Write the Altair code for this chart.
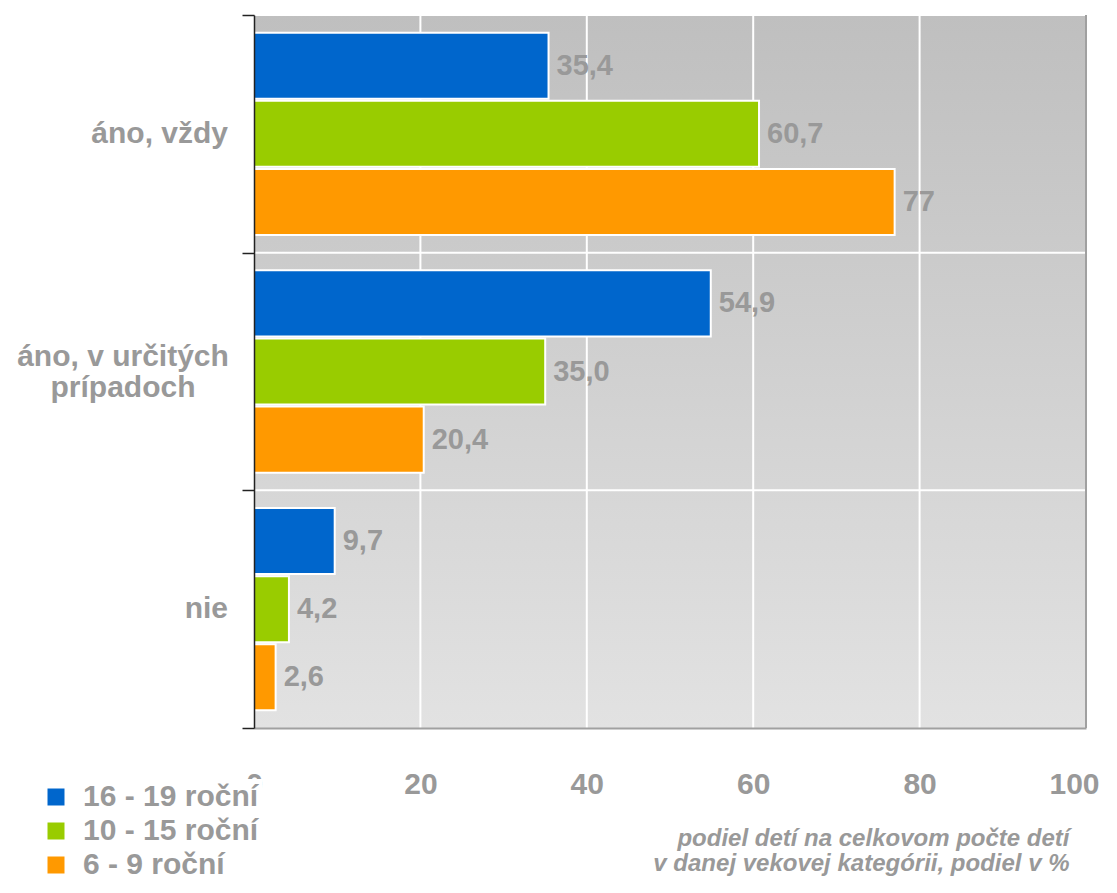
import altair as alt
import pandas as pd

categories = ["áno, vždy", "áno, v určitých prípadoch", "nie"]
single_line_cats = ["áno, vždy", "nie"]
two_line_cat = ["áno, v určitých prípadoch"]
two_line_text = ["áno, v určitých\nprípadoch"]
series = ["16 - 19 roční", "10 - 15 roční", "6 - 9 roční"]
values_16_19 = [35.4, 54.9, 9.7]
values_10_15 = [60.7, 35.0, 4.2]
values_6_9 = [77, 20.4, 2.6]
labels_16_19 = ["35,4", "54,9", "9,7"]
labels_10_15 = ["60,7", "35,0", "4,2"]
labels_6_9 = ["77", "20,4", "2,6"]
x_ticks = [0, 20, 40, 60, 80, 100]
colors = ["#0066CC", "#99CC00", "#FF9900"]
axis_title = ["podiel detí na celkovom počte detí", "v danej vekovej kategórii, podiel v %"]

rows = []
for s, vals, labs in zip(series, [values_16_19, values_10_15, values_6_9],
                         [labels_16_19, labels_10_15, labels_6_9]):
    for c, v, l in zip(categories, vals, labs):
        rows.append({"category": c, "series": s, "value": v, "label": l})
df = pd.DataFrame(rows)

GRAY = "#999999"
FONT = "Liberation Sans"

y_scale = alt.Scale(domain=categories, paddingInner=0, paddingOuter=0)
y_enc = alt.Y("category:N", sort=categories, scale=y_scale,
              axis=alt.Axis(title=None, tickBand="extent", grid=False, labels=False,
                            tickSize=12, tickColor="#222222", tickWidth=1.5,
                            domainColor="#222222", domainWidth=1.5, zindex=1))
yoff_enc = alt.YOffset("series:N", sort=series,
                       scale=alt.Scale(domain=series, paddingInner=0.03, paddingOuter=0.26))
x_enc = alt.X("value:Q", scale=alt.Scale(domain=[0, 100], nice=False),
              axis=alt.Axis(values=x_ticks, grid=False,
                            ticks=False, tickSize=0, domainColor="#a0a0a0", domainWidth=2,
                            labelFontSize=30, labelFontWeight="bold", labelColor=GRAY,
                            labelFont=FONT, labelPadding=65, labelBaseline="alphabetic",
                            labelFlush=False, labelOverlap=False,
                            labelOffset={"condition": {"test": "datum.value == 100", "value": -12},
                                         "value": 0},
                            title=axis_title, titleFontSize=24, titleFontStyle="italic",
                            titleFontWeight="bold", titleColor=GRAY, titleFont=FONT,
                            titleAlign="right", titleX=815, titleY=110,
                            titleBaseline="middle", titleLineHeight=25, zindex=1))

gradient = alt.LinearGradient(gradient="linear",
                              stops=[alt.GradientStop(color="#bfbfbf", offset=0),
                                     alt.GradientStop(color="#e2e2e2", offset=1)],
                              x1=0, x2=0, y1=0, y2=1)

bg = alt.Chart(pd.DataFrame({"a": [0]})).mark_rect(fill=gradient, strokeWidth=0).encode(
    x=alt.value(0), x2=alt.value("width"), y=alt.value(0), y2=alt.value("height"))

xgrid = alt.Chart(pd.DataFrame({"t": x_ticks})).mark_rule(color="white", strokeWidth=2).encode(
    x=alt.X("t:Q"), y=alt.value(0), y2=alt.value("height"))

ygrid = alt.Chart(pd.DataFrame({"category": categories})).mark_rule(
    color="white", strokeWidth=2).encode(
    y=alt.Y("category:N", sort=categories, bandPosition=0),
    x=alt.value(0), x2=alt.value("width"))

bars = alt.Chart(df).mark_bar(stroke="white", strokeWidth=2, opacity=1).encode(
    x=x_enc,
    y=y_enc,
    yOffset=yoff_enc,
    color=alt.Color("series:N", sort=series,
                    scale=alt.Scale(domain=series, range=colors),
                    legend=alt.Legend(title=None, orient="none", legendX=-216, legendY=764,
                                      symbolType="square", symbolSize=289,
                                      symbolStrokeWidth=0, labelFontSize=30,
                                      labelFontWeight="bold", labelColor=GRAY,
                                      labelFont=FONT, labelOffset=12, rowPadding=4,
                                      labelLimit=400,
                                      fillColor="white", padding=3, symbolOpacity=1,
                                      zindex=2)),
)

texts = alt.Chart(df).mark_text(align="left", baseline="middle", dx=8, fontSize=29,
                                fontWeight="bold", color=GRAY, font=FONT).encode(
    x="value:Q",
    y=alt.Y("category:N", sort=categories),
    yOffset=alt.YOffset("series:N", sort=series),
    text="label:N",
)

ylab1 = alt.Chart(pd.DataFrame({"category": single_line_cats})).mark_text(
    align="right", baseline="middle", fontSize=30, fontWeight="bold", color=GRAY,
    font=FONT).encode(
    x=alt.value(-26),
    y=alt.Y("category:N", sort=categories, bandPosition=0.5),
    text="category:N")

ylab2 = alt.Chart(pd.DataFrame({"category": two_line_cat, "txt": two_line_text})).mark_text(
    align="center", baseline="middle", fontSize=30, fontWeight="bold", color=GRAY,
    font=FONT, lineBreak="\n", lineHeight=31, dy=-15).encode(
    x=alt.value(-131),
    y=alt.Y("category:N", sort=categories, bandPosition=0.5),
    text="txt:N")

edge = alt.Chart(pd.DataFrame({"v": [100]})).mark_rule(color="#a0a0a0", strokeWidth=2).encode(
    x="v:Q", y=alt.value(0), y2=alt.value("height"))

chart = alt.layer(bg, xgrid, ygrid, bars, texts, ylab1, ylab2, edge).properties(
    width=832, height=713,
    autosize=alt.AutoSizeParams(type="none"),
    padding={"left": 246, "top": 7, "right": 20, "bottom": 152},
    background="white",
).configure_view(stroke=None)

chart.save("out.html", embed_options={"renderer": "svg", "actions": False})
